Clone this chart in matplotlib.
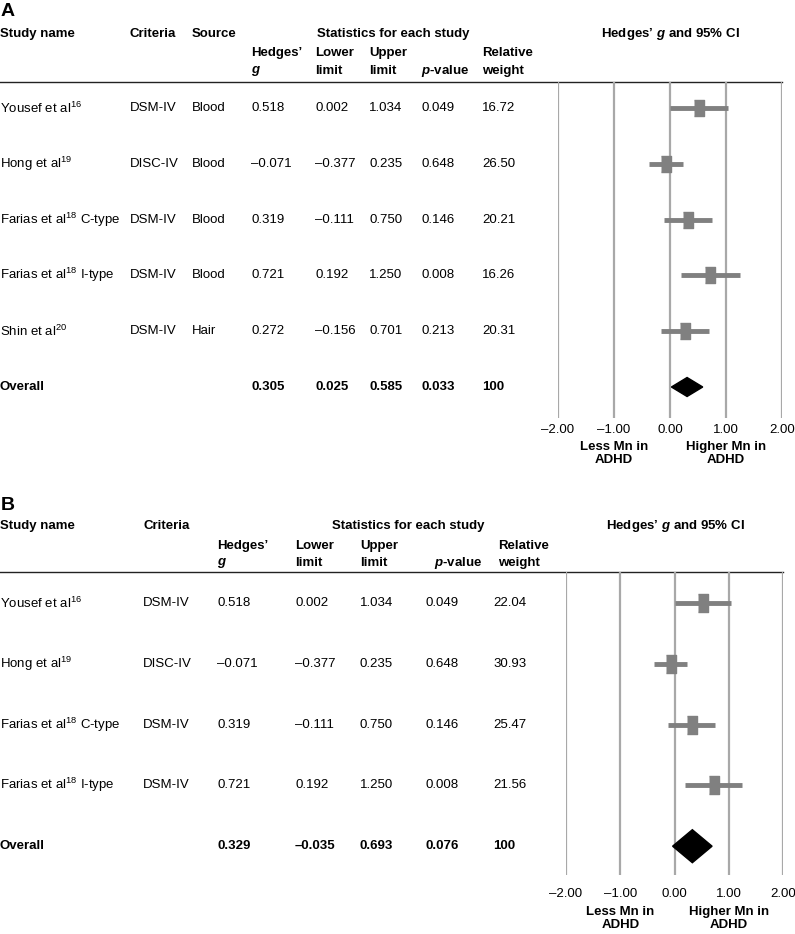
import numpy as np
import matplotlib.pyplot as plt
from matplotlib.patches import Polygon

plt.rcParams['font.family'] = ['Liberation Sans', 'DejaVu Sans']
plt.rcParams['mathtext.fontset'] = 'custom'
plt.rcParams['mathtext.rm'] = 'Liberation Sans'
plt.rcParams['mathtext.it'] = 'Liberation Sans:italic'
plt.rcParams['mathtext.bf'] = 'Liberation Sans:bold'
plt.rcParams['mathtext.bfit'] = 'Liberation Sans:italic:bold'
plt.rcParams['mathtext.default'] = 'regular'

# ---- data: panel A ----
a_names = ["Yousef et al$^{16}$", "Hong et al$^{19}$", "Farias et al$^{18}$ C-type",
           "Farias et al$^{18}$ I-type", "Shin et al$^{20}$"]
a_criteria = ["DSM-IV", "DISC-IV", "DSM-IV", "DSM-IV", "DSM-IV"]
a_source = ["Blood", "Blood", "Blood", "Blood", "Hair"]
a_g = [0.518, -0.071, 0.319, 0.721, 0.272]
a_lower = [0.002, -0.377, -0.111, 0.192, -0.156]
a_upper = [1.034, 0.235, 0.750, 1.250, 0.701]
a_p = [0.049, 0.648, 0.146, 0.008, 0.213]
a_weight = [16.72, 26.50, 20.21, 16.26, 20.31]
a_overall = [0.305, 0.025, 0.585, 0.033, 100]

# ---- data: panel B ----
b_names = ["Yousef et al$^{16}$", "Hong et al$^{19}$", "Farias et al$^{18}$ C-type",
           "Farias et al$^{18}$ I-type"]
b_criteria = ["DSM-IV", "DISC-IV", "DSM-IV", "DSM-IV"]
b_g = [0.518, -0.071, 0.319, 0.721]
b_lower = [0.002, -0.377, -0.111, 0.192]
b_upper = [1.034, 0.235, 0.750, 1.250]
b_p = [0.049, 0.648, 0.146, 0.008]
b_weight = [22.04, 30.93, 25.47, 21.56]
b_overall = [0.329, -0.035, 0.693, 0.076, 100]

ticks = [-2, -1, 0, 1, 2]
tick_labels = ["\u20132.00", "\u20131.00", "0.00", "1.00", "2.00"]

W, H = 795, 934
FS = 9.5
GRID = '#a8a8a8'
MARK = '#808080'


def fmt(v):
    return f"{v:.3f}".replace('-', '\u2013')


fig = plt.figure(figsize=(W / 100, H / 100), dpi=100)
bg = fig.add_axes([0, 0, 1, 1])
bg.set_xlim(0, W)
bg.set_ylim(H, 0)
bg.axis('off')


def draw_panel(L, names, cols, g, lo, hi, p, w, overall):
    # panel letter and header
    bg.text(1, L['letter'], L['tag'], fontsize=14, weight='bold', va='center')
    for label, x in L['head1']:
        bg.text(x, L['h1'], label, fontsize=FS, weight='bold', va='center')
    bg.text(L['stats_c'], L['h1'], "Statistics for each study", fontsize=FS,
            weight='bold', va='center', ha='center')
    bg.text(L['forest_c'], L['h1'], "Hedges\u2019 $\\mathbfit{g}$ and 95% CI",
            fontsize=FS, weight='bold', va='center', ha='center')
    for top, bot, x in L['head2']:
        if top:
            bg.text(x, L['h2a'], top, fontsize=FS, weight='bold', va='center')
        bg.text(x, L['h2b'], bot, fontsize=FS, weight='bold', va='center')
    bg.plot([0, L['x1']], [L['line'], L['line']], color='#222222', lw=1, zorder=5)

    # table rows
    n = len(names)
    for i in range(n):
        y = L['row0'] + i * L['step']
        vals = [names[i]] + [c[i] for c in cols] + [fmt(g[i]), fmt(lo[i]), fmt(hi[i]),
                                                   f"{p[i]:.3f}", f"{w[i]:.2f}"]
        for v, x in zip(vals, L['cx']):
            bg.text(x, y, v, fontsize=FS, va='center')
    y = L['row0'] + n * L['step']
    ov = ["Overall"] + [""] * len(cols) + [fmt(overall[0]), fmt(overall[1]), fmt(overall[2]),
                                          f"{overall[3]:.3f}", f"{overall[4]}"]
    for v, x in zip(ov, L['cx']):
        bg.text(x, y, v, fontsize=FS, va='center', weight='bold')

    # forest axes
    x0, x1 = L['x0'], L['x1']
    ax = fig.add_axes([x0 / W, 1 - L['bottom'] / H, (x1 - x0) / W,
                       (L['bottom'] - L['line']) / H])
    ax.patch.set_visible(False)
    ax.set_xlim(-2, 2)
    ax.set_ylim((L['bottom'] - L['row0']) / L['step'], (L['line'] - L['row0']) / L['step'])
    for s in ax.spines.values():
        s.set_visible(False)
    ax.set_yticks([])
    ax.set_xticks(ticks)
    ax.set_xticklabels(tick_labels, fontsize=FS)
    ax.tick_params(axis='x', length=0, pad=L['pad'])
    for t in ticks:
        ax.axvline(t, color=GRID, lw=1.6, zorder=0)
    rows = np.arange(n)
    ax.hlines(rows, lo, hi, color=MARK, lw=3.5, zorder=2)
    box = [(-1, -L['box_h']), (1, -L['box_h']), (1, L['box_h']), (-1, L['box_h'])]
    ax.plot(g, rows, ls='none', marker=box, ms=L['box_ms'], color=MARK, zorder=3)
    dh = L['dia_h'] / L['step']
    ax.add_patch(Polygon([(overall[1], n), (overall[0], n - dh), (overall[2], n),
                          (overall[0], n + dh)], closed=True, color='black', zorder=3))

    # direction labels
    def px(v):
        return x0 + (v + 2) / 4 * (x1 - x0)
    bg.text(px(-1), L['less'], "Less Mn in\nADHD", fontsize=FS, weight='bold',
            ha='center', va='top', linespacing=1.15)
    bg.text(px(1), L['less'], "Higher Mn in\nADHD", fontsize=FS, weight='bold',
            ha='center', va='top', linespacing=1.15)


layout_a = dict(tag='A', letter=11, h1=34, h2a=53, h2b=71, line=82, bottom=418,
                x0=558, x1=782, row0=108, step=55.8, stats_c=393, forest_c=670,
                head1=[("Study name", 0), ("Criteria", 130), ("Source", 192)],
                head2=[("Hedges\u2019", "$\\mathbfit{g}$", 251), ("Lower", "limit", 315),
                       ("Upper", "limit", 369), (None, "$\\mathbfit{p}$-value", 421),
                       ("Relative", "weight", 482)],
                cx=[0, 130, 192, 251, 315, 369, 421, 482],
                pad=4, box_h=1.5, box_ms=11.5, dia_h=9.5, less=441)

layout_b = dict(tag='B', letter=505, h1=526, h2a=546, h2b=563, line=572, bottom=875,
                x0=566, x1=783, row0=603, step=60.8, stats_c=408, forest_c=675,
                head1=[("Study name", 0), ("Criteria", 143)],
                head2=[("Hedges\u2019", "$\\mathbfit{g}$", 217), ("Lower", "limit", 295),
                       ("Upper", "limit", 360), (None, "$\\mathbfit{p}$-value", 434),
                       ("Relative", "weight", 498)],
                cx=[0, 143, 217, 295, 360, 425, 493],
                pad=9.5, box_h=1.9, box_ms=13.5, dia_h=16.5, less=906)

draw_panel(layout_a, a_names, [a_criteria, a_source], a_g, a_lower, a_upper, a_p,
           a_weight, a_overall)
draw_panel(layout_b, b_names, [b_criteria], b_g, b_lower, b_upper, b_p,
           b_weight, b_overall)

fig.savefig('out.png', dpi=100)
